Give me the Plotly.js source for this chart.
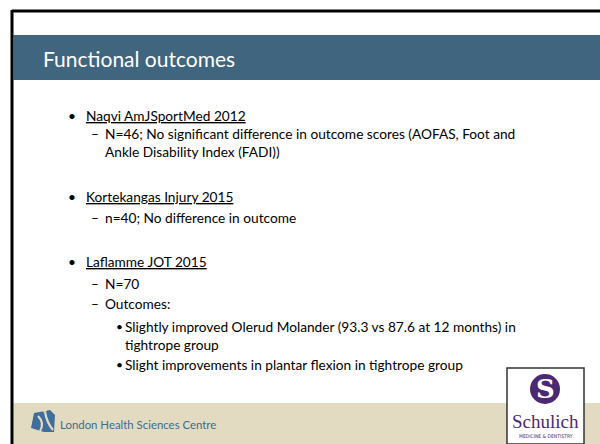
<!DOCTYPE html>
<html>
<head>
<meta charset="utf-8">
<script src="https://cdn.plot.ly/plotly-3.0.1.min.js"></script>
<style>html,body{margin:0;padding:0;background:#fff;}#chart{width:600px;height:444px;}</style>
</head>
<body>
<div id="chart"></div>
<script>
// ---- slide content ----
const slideTitle = "Functional outcomes";
const bodyLines = [
  "Naqvi AmJSportMed 2012",
  "N=46; No significant difference in outcome scores (AOFAS, Foot and",
  "Ankle Disability Index (FADI))",
  "Kortekangas Injury 2015",
  "n=40; No difference in outcome",
  "Laflamme JOT 2015",
  "N=70",
  "Outcomes:",
  "Slightly improved Olerud Molander (93.3 vs 87.6 at 12 months) in",
  "tightrope group",
  "Slight improvements in plantar flexion in tightrope group"
];
const bodyLevels   = [1, 2, 2, 1, 2, 1, 2, 2, 3, 3, 3];
const bodyMarkered = [true, true, false, true, true, true, true, true, true, false, true];
const bodyLineY    = [115, 133, 151, 196, 217, 261, 283, 303, 326, 344, 364];
const footerText = "London Health Sciences Centre";
const logoWord = "Schulich";
const logoSub = "MEDICINE &amp; DENTISTRY";

// ---- styling ----
const FONT = "Lato, Carlito, 'Open Sans', sans-serif";
const markerFor = {1: "•", 2: "–", 3: "•"};
const markerX = {1: 66, 2: 89, 3: 114};
const textX = {1: 84, 2: 103, 3: 123};
const BODY_SIZE = 13.7;

const annotations = [];
const shapes = [];

// outer border (top + left)
shapes.push({type: "line", xref: "x", yref: "y", x0: 12, x1: 600, y0: 11, y1: 11, line: {color: "#000", width: 3}});
shapes.push({type: "line", xref: "x", yref: "y", x0: 12, x1: 12, y0: 10, y1: 444, line: {color: "#000", width: 3}});
// header band
shapes.push({type: "rect", xref: "x", yref: "y", x0: 13.5, x1: 600, y0: 35, y1: 80, fillcolor: "#40657F", line: {width: 0}, layer: "below"});
// footer band
shapes.push({type: "rect", xref: "x", yref: "y", x0: 13.5, x1: 600, y0: 403, y1: 444, fillcolor: "#E2DBC2", line: {width: 0}, layer: "below"});

annotations.push({x: 41, y: 58, xref: "x", yref: "y", xanchor: "left", yanchor: "middle", showarrow: false,
  text: slideTitle, font: {family: FONT, size: 21, color: "#FFFFFF"}});

bodyLines.forEach((t, i) => {
  const lv = bodyLevels[i];
  const y = bodyLineY[i];
  if (bodyMarkered[i]) {
    annotations.push({x: markerX[lv], y: y, xref: "x", yref: "y", xanchor: "left", yanchor: "middle", showarrow: false,
      text: markerFor[lv], font: {family: FONT, size: lv === 3 ? 12 : BODY_SIZE, color: "#000"}});
  }
  annotations.push({x: textX[lv], y: y, xref: "x", yref: "y", xanchor: "left", yanchor: "middle", showarrow: false,
    text: lv === 1 ? "<u>" + t + "</u>" : t, font: {family: FONT, size: BODY_SIZE, color: "#000"}});
});

// LHSC logo mark (stylised)
shapes.push({type: "path", xref: "x", yref: "y",
  path: "M 34 413 L 50 410 L 55 415 L 54 432 L 44 432 L 31 428 Z", fillcolor: "#3F6E9C", line: {width: 0}});
shapes.push({type: "path", xref: "x", yref: "y",
  path: "M 38 416 Q 45 423 40 431 M 45 412 Q 47 423 53 430", line: {color: "#E2DBC2", width: 2.2}});
shapes.push({type: "circle", xref: "x", yref: "y", x0: 42, x1: 47, y0: 407, y1: 412, fillcolor: "#E2DBC2", line: {width: 0}});
annotations.push({x: 58, y: 424, xref: "x", yref: "y", xanchor: "left", yanchor: "middle", showarrow: false,
  text: footerText, font: {family: FONT, size: 11.4, color: "#3A6C8F"}});

// Schulich logo box
shapes.push({type: "rect", xref: "x", yref: "y", x0: 507, x1: 584, y0: 368, y1: 444, fillcolor: "#FFFFFF", line: {color: "#333", width: 1.5}});
shapes.push({type: "circle", xref: "x", yref: "y", x0: 530, x1: 560, y0: 374, y1: 404, fillcolor: "#4B2A73", line: {width: 0}});
annotations.push({x: 545, y: 389, xref: "x", yref: "y", xanchor: "center", yanchor: "middle", showarrow: false,
  text: "<b>S</b>", font: {family: "'DejaVu Serif', 'Liberation Serif', serif", size: 26, color: "#FFFFFF"}});
annotations.push({x: 545.5, y: 421, xref: "x", yref: "y", xanchor: "center", yanchor: "middle", showarrow: false,
  text: logoWord, font: {family: "'Liberation Serif', serif", size: 19, color: "#4B2A73"}});
annotations.push({x: 545.5, y: 436, xref: "x", yref: "y", xanchor: "center", yanchor: "middle", showarrow: false,
  text: logoSub, font: {family: "'DejaVu Sans Condensed', sans-serif", size: 5, color: "#4B2A73"}});

const layout = {
  width: 600, height: 444,
  margin: {l: 0, r: 0, t: 0, b: 0},
  paper_bgcolor: "#FFFFFF", plot_bgcolor: "#FFFFFF",
  xaxis: {range: [0, 600], visible: false, fixedrange: true},
  yaxis: {range: [444, 0], visible: false, fixedrange: true},
  showlegend: false,
  shapes: shapes,
  annotations: annotations
};
Plotly.newPlot("chart", [], layout, {staticPlot: true, displayModeBar: false});
</script>
</body>
</html>
